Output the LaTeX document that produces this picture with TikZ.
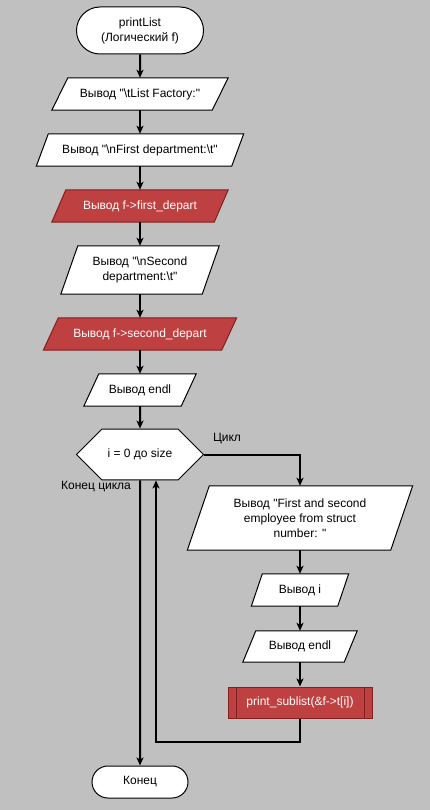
\documentclass[tikz,border=0pt]{standalone}
\usepackage{fontspec}
\setmainfont{Liberation Sans}
\usetikzlibrary{shapes.misc, arrows.meta}

\definecolor{fon}{HTML}{C0C0C0}
\definecolor{krasny}{HTML}{BF4040}
\definecolor{ramka}{HTML}{802020}

\pgfdeclarelayer{pod}
\pgfsetlayers{pod,main}

\begin{document}
\begin{tikzpicture}[x=1pt, y=-1pt,
    every node/.style={font=\fontsize{12pt}{15pt}\selectfont},
    blok/.style={draw=black, fill=white, line width=1pt, align=center},
    terminal/.style={blok, rounded rectangle, inner sep=0pt},
    vyvod/.style={rectangle, inner sep=0pt, align=center},
    krasny blok/.style={fill=krasny, draw=ramka, text=white},
    cikl/.style={blok, chamfered rectangle, chamfered rectangle xsep=13pt,
        chamfered rectangle ysep=16.5pt, minimum width=127pt, minimum height=33pt},
    svyaz/.style={line width=2pt, -{Stealth[length=8pt, width=7pt, inset=2pt]}},
]

        \useasboundingbox (0,0) rectangle (430,810);

        % Начало
        \node[terminal, minimum width=127pt, minimum height=47pt] (nachalo) at (140,30.5)
            {printList\\(Логический f)};

        % Вывод заголовков
        \node[vyvod, minimum width=160pt, minimum height=32pt] (b1) at (140,94)
            {Вывод \textquotedbl\textbackslash tList Factory:\textquotedbl};
        \node[vyvod, minimum width=195pt, minimum height=32pt] (b2) at (140,150)
            {Вывод \textquotedbl\textbackslash nFirst department:\textbackslash t\textquotedbl};
        \node[vyvod, text=white, minimum width=162pt, minimum height=32pt] (b3) at (140,206)
            {Вывод f->first\_depart};
        \node[vyvod, minimum width=141pt, minimum height=48pt] (b4) at (140,270)
            {Вывод \textquotedbl\textbackslash nSecond\\department:\textbackslash t\textquotedbl};
        \node[vyvod, text=white, minimum width=178pt, minimum height=32pt] (b5) at (140,334)
            {Вывод f->second\_depart};
        \node[vyvod, minimum width=97pt, minimum height=32pt] (b6) at (140,390)
            {Вывод endl};

        % Цикл
        \node[cikl] (cikl) at (140,454.5) {i = 0 до size};
        \node (lcikl) at (227,439) {Цикл};
        \node (lkonec) at (96,487) {Конец цикла};

        % Тело цикла
        \node[vyvod, minimum width=203pt, minimum height=64pt] (b7) at (300,518)
            {Вывод \textquotedbl First and second\\employee from struct\\number: \textquotedbl};
        \node[vyvod, minimum width=86pt, minimum height=32pt] (b8) at (300,590)
            {Вывод i};
        \node[vyvod, minimum width=101pt, minimum height=31pt] (b9) at (300,646.5)
            {Вывод endl};
        \node[blok, krasny blok, minimum width=144pt, minimum height=31pt] (pp) at (300,702.5)
            {print\_sublist(\&f->t[i])};
        \draw[ramka, line width=1pt] ([xshift=9pt]pp.north west) -- ([xshift=9pt]pp.south west);
        \draw[ramka, line width=1pt] ([xshift=-8pt]pp.north east) -- ([xshift=-8pt]pp.south east);

        % Конец
        \node[terminal, minimum width=96pt, minimum height=32pt] (konec) at (140,782) {Конец};

        % Фон и параллелограммы вывода
        \begin{pgfonlayer}{pod}
            \fill[fon] (0,0) rectangle (430,810);
            \foreach \n/\s/\zal/\ram in {b1/8/white/black, b2/6/white/black, b3/7/krasny/ramka,
                    b4/8.5/white/black, b5/7.5/krasny/ramka, b6/7.5/white/black,
                    b7/11/white/black, b8/5.5/white/black, b9/6.5/white/black}
                \filldraw[fill=\zal, draw=\ram, line width=1pt]
                    ([xshift=\s pt]\n.north west) -- ([xshift=\s pt]\n.north east)
                    -- ([xshift=-\s pt]\n.south east) -- ([xshift=-\s pt]\n.south west) -- cycle;
        \end{pgfonlayer}

        % Связи
        \draw[svyaz] (nachalo) -- (b1);
        \draw[svyaz] (b1) -- (b2);
        \draw[svyaz] (b2) -- (b3);
        \draw[svyaz] (b3) -- (b4);
        \draw[svyaz] (b4) -- (b5);
        \draw[svyaz] (b5) -- (b6);
        \draw[svyaz] (b6) -- (cikl);
        \draw[svyaz] (cikl.east) -| (b7);
        \draw[svyaz] (b7) -- (b8);
        \draw[svyaz] (b8) -- (b9);
        \draw[svyaz] (b9) -- (pp);
        \coordinate (povtor) at (156,742);
        \draw[svyaz] (pp.south) |- (povtor) -- (povtor |- cikl.south);
        \draw[svyaz] (cikl) -- (konec);

\end{tikzpicture}
\end{document}
